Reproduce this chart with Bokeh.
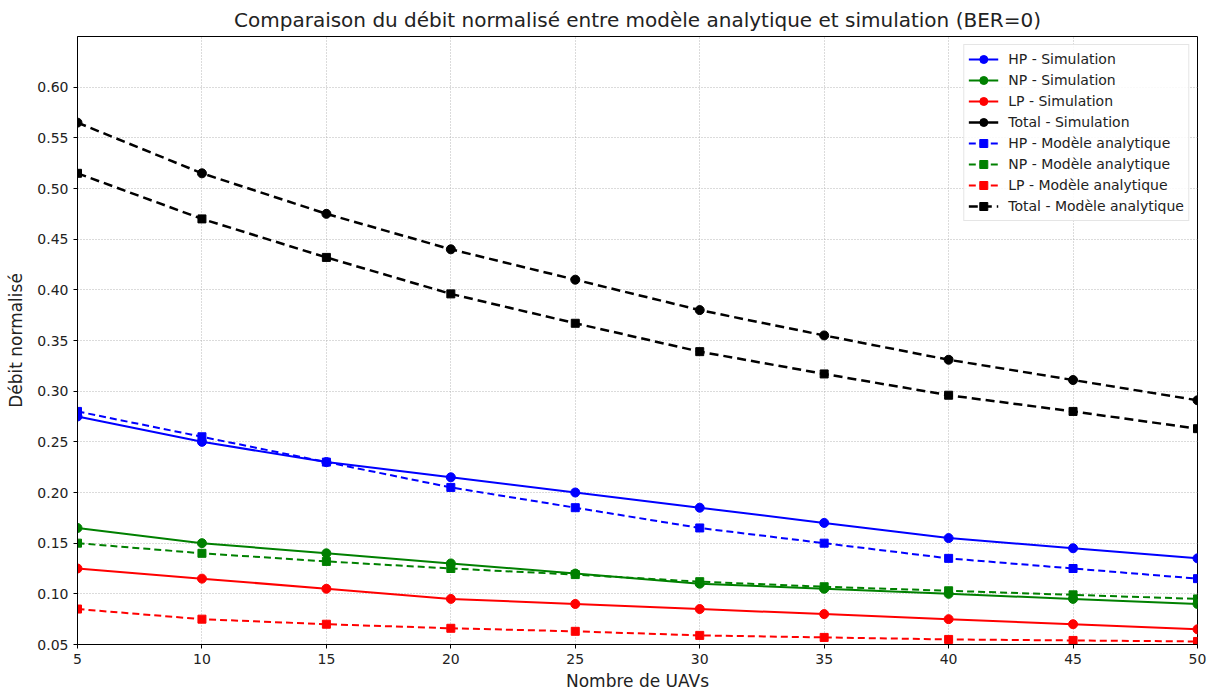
from bokeh.plotting import figure
from bokeh.models import Legend, LegendItem, ColumnDataSource, FixedTicker, NumeralTickFormatter, Range1d
from bokeh.embed import file_html
from bokeh.resources import INLINE

uavs = [5, 10, 15, 20, 25, 30, 35, 40, 45, 50]
hp_sim = [0.275, 0.250, 0.230, 0.215, 0.200, 0.185, 0.170, 0.155, 0.145, 0.135]
np_sim = [0.165, 0.150, 0.140, 0.130, 0.120, 0.110, 0.105, 0.100, 0.095, 0.090]
lp_sim = [0.125, 0.115, 0.105, 0.095, 0.090, 0.085, 0.080, 0.075, 0.070, 0.065]
total_sim = [0.565, 0.515, 0.475, 0.440, 0.410, 0.380, 0.355, 0.331, 0.311, 0.291]
hp_mod = [0.280, 0.255, 0.230, 0.205, 0.185, 0.165, 0.150, 0.135, 0.125, 0.115]
np_mod = [0.150, 0.140, 0.132, 0.125, 0.119, 0.112, 0.107, 0.103, 0.099, 0.095]
lp_mod = [0.085, 0.075, 0.070, 0.066, 0.063, 0.059, 0.057, 0.055, 0.054, 0.053]
total_mod = [0.515, 0.470, 0.432, 0.396, 0.367, 0.339, 0.317, 0.296, 0.280, 0.263]

FONT = "DejaVu Sans"

p = figure(width=1210, height=693, output_backend="svg", toolbar_location=None,
           title="Comparaison du débit normalisé entre modèle analytique et simulation (BER=0)",
           x_range=Range1d(5, 50), y_range=Range1d(0.05, 0.65),
           min_border_left=77, min_border_right=13, min_border_top=36, min_border_bottom=48)

p.title.text_font = FONT
p.title.text_font_size = "20px"
p.title.text_font_style = "normal"
p.title.align = "center"
p.title.text_color = "#222222"

p.xaxis.axis_label = "Nombre de UAVs"
p.yaxis.axis_label = "Débit normalisé"
for ax in (p.xaxis, p.yaxis):
    ax.axis_label_text_font = FONT
    ax.axis_label_text_font_size = "17px"
    ax.axis_label_text_font_style = "normal"
    ax.axis_label_text_color = "#222222"
    ax.major_label_text_font = FONT
    ax.major_label_text_font_size = "14px"
    ax.major_label_text_color = "#222222"
    ax.minor_tick_line_color = None
    ax.major_tick_in = 0
    ax.major_tick_out = 4
    ax.axis_line_color = "black"
    ax.major_tick_line_color = "black"
p.xaxis.axis_label_standoff = 4
p.yaxis.axis_label_standoff = 8

p.xaxis.ticker = FixedTicker(ticks=uavs)
p.yaxis.ticker = FixedTicker(ticks=[0.05, 0.10, 0.15, 0.20, 0.25, 0.30, 0.35, 0.40, 0.45, 0.50, 0.55, 0.60])
p.yaxis.formatter = NumeralTickFormatter(format="0.00")

p.xgrid.grid_line_color = "#b0b0b0"
p.ygrid.grid_line_color = "#b0b0b0"
p.xgrid.grid_line_dash = "1 2"
p.ygrid.grid_line_dash = "1 2"
p.xgrid.grid_line_alpha = 0.9
p.ygrid.grid_line_alpha = 0.9
p.outline_line_color = "black"
p.outline_line_alpha = 1

src = ColumnDataSource(dict(x=uavs, hp_sim=hp_sim, np_sim=np_sim, lp_sim=lp_sim, total_sim=total_sim,
                            hp_mod=hp_mod, np_mod=np_mod, lp_mod=lp_mod, total_mod=total_mod))

items = []
series = [
    ("hp_sim", "blue", "solid", "circle", "HP - Simulation", 2),
    ("np_sim", "green", "solid", "circle", "NP - Simulation", 2),
    ("lp_sim", "red", "solid", "circle", "LP - Simulation", 2),
    ("total_sim", "black", "9 5", "circle", "Total - Simulation", 2.5),
    ("hp_mod", "blue", "7 4", "square", "HP - Modèle analytique", 2),
    ("np_mod", "green", "7 4", "square", "NP - Modèle analytique", 2),
    ("lp_mod", "red", "7 4", "square", "LP - Modèle analytique", 2),
    ("total_mod", "black", "9 5", "square", "Total - Modèle analytique", 2.5),
]
for col, color, dash, marker, label, lw in series:
    line = p.line("x", col, source=src, line_color=color, line_width=lw, line_dash=dash)
    sc = p.scatter("x", col, source=src, marker=marker, size=9 if marker == "circle" else 8,
                   fill_color=color, line_color=color)
    if col == "total_sim":
        # legend shows a solid line for this entry (single point: draws nothing on the plot)
        one = ColumnDataSource(dict(x=uavs[:1], y=total_sim[:1]))
        leg_line = p.line("x", "y", source=one, line_color=color, line_width=lw)
        items.append(LegendItem(label=label, renderers=[leg_line, sc]))
    else:
        items.append(LegendItem(label=label, renderers=[line, sc]))

legend = Legend(items=items, location="top_right")
legend.label_text_font = FONT
legend.label_text_font_size = "14px"
legend.label_text_color = "#222222"
legend.glyph_width = 30
legend.glyph_height = 20
legend.spacing = 1
legend.padding = 4
legend.margin = 8
legend.label_standoff = 10
legend.border_line_color = "#cccccc"
legend.background_fill_alpha = 0.85
p.add_layout(legend)

open("out.html", "w").write(file_html(p, INLINE))
